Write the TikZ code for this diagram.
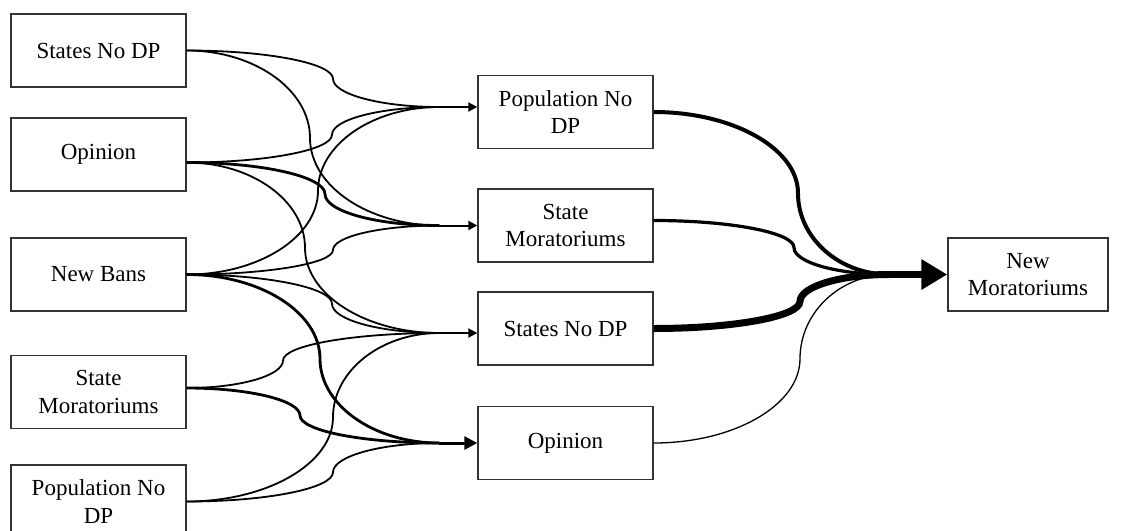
\documentclass[tikz,border=0pt]{standalone}
\usepackage{fontspec}
\setmainfont{Liberation Serif}
\usetikzlibrary{arrows.meta, calc}

\begin{document}
\begin{tikzpicture}[x=0.5pt, y=-0.5pt,
    box/.style={draw=black!80, line width=0.7pt, minimum width=87.5pt, minimum height=36.5pt,
        align=center, inner sep=2pt, font=\fontsize{11.5}{13.7}\selectfont},
    link/.style={line width=0.9pt},
    heavy/.style={line width=1.4pt},
    feed/.style={line width=1pt, -{Triangle[length=4.5pt, width=4.5pt]}},
    flow/.style={to path={let \p1=(\tikztostart), \p2=(\tikztotarget), \p3=(#1,0),
        \p4=($(\tikztostart)!0.5!(\tikztotarget)$) in
        .. controls ({\x1+0.55*(\x3-\x1)},\y1) and (\x3,{\y4+0.55*(\y1-\y4)}) .. (\x3,\y4)
        .. controls (\x3,{\y4+0.55*(\y2-\y4)}) and ({\x2-0.55*(\x2-\x3)},\y2) .. (\tikztotarget)}}]
    \useasboundingbox (0,0) rectangle (1121,531);

    % left column
    \node[box] (sNoDP) at (98.5,50.5) {States No DP};
    \node[box] (opin) at (98.5,154.5) {Opinion};
    \node[box] (bans) at (98.5,274.5) {New Bans};
    \node[box] (sMor) at (98.5,392) {State\\Moratoriums};
    \node[box] (pNoDP) at (98.5,501.5) {Population No\\DP};

    % middle column
    \node[box] (mPop) at (565.5,112) {Population No\\DP};
    \node[box] (mMor) at (565.5,225.5) {State\\Moratoriums};
    \node[box] (mStates) at (565.5,328.5) {States No DP};
    \node[box] (mOpin) at (565.5,443) {Opinion};

    % outcome
    \node[box, minimum width=80pt] (nMor) at (1028,274.5) {New\\Moratoriums};

    % ports and merge points
    \coordinate (opinOut) at ($(opin.east)+(0,8)$);
    \coordinate (sMorOut) at ($(sMor.east)+(0,-4)$);
    \coordinate (mMorOut) at ($(mMor.east)+(0,-5)$);
    \coordinate (jPop) at ($(mPop.west)+(-38,-5)$);
    \coordinate (jMor) at ($(mMor.west)+(-38,0)$);
    \coordinate (jStates) at ($(mStates.west)+(-38,4.5)$);
    \coordinate (jOpin) at ($(mOpin.west)+(-38,0)$);
    \coordinate (jNew) at ($(nMor.west)+(-58,0)$);

    % into Population No DP
    \draw[link] (sNoDP.east) to[flow=333] (jPop);
    \draw[link] (opinOut) to[flow=332] (jPop);
    \draw[link] (bans.east) to[flow=318] (jPop);
    % into State Moratoriums
    \draw[link] (sNoDP.east) to[flow=310] (jMor);
    \draw[heavy] (opinOut) to[flow=325] (jMor);
    \draw[link] (bans.east) to[flow=333] (jMor);
    % into States No DP
    \draw[link] (opinOut) to[flow=305] (jStates);
    \draw[link] (bans.east) to[flow=332] (jStates);
    \draw[link] (sMorOut) to[flow=283] (jStates);
    \draw[link] (pNoDP.east) to[flow=333] (jStates);
    % into Opinion
    \draw[heavy] (bans.east) to[flow=320] (jOpin);
    \draw[heavy] (sMorOut) to[flow=300] (jOpin);
    \draw[link] (pNoDP.east) to[flow=333] (jOpin);

    \draw[feed] (jPop) -- (jPop -| mPop.west);
    \draw[feed] (jMor) -- (mMor.west);
    \draw[feed] (jStates) -- (jStates -| mStates.west);
    \draw[line width=1.5pt, -{Triangle[length=6.5pt, width=6.5pt]}] (jOpin) -- (mOpin.west);

    % into New Moratoriums
    \draw[line width=2pt] (mPop.east) to[flow=798] (jNew);
    \draw[line width=1.6pt] (mMorOut) to[flow=794] (jNew);
    \draw[line width=3.5pt] (mStates.east) to[flow=800] (jNew);
    \draw[line width=0.65pt] (mOpin.east) to[flow=800] (jNew);
    \draw[line width=3.5pt, -{Triangle[length=13pt, width=14.5pt]}] (jNew) -- (nMor.west);
\end{tikzpicture}
\end{document}
